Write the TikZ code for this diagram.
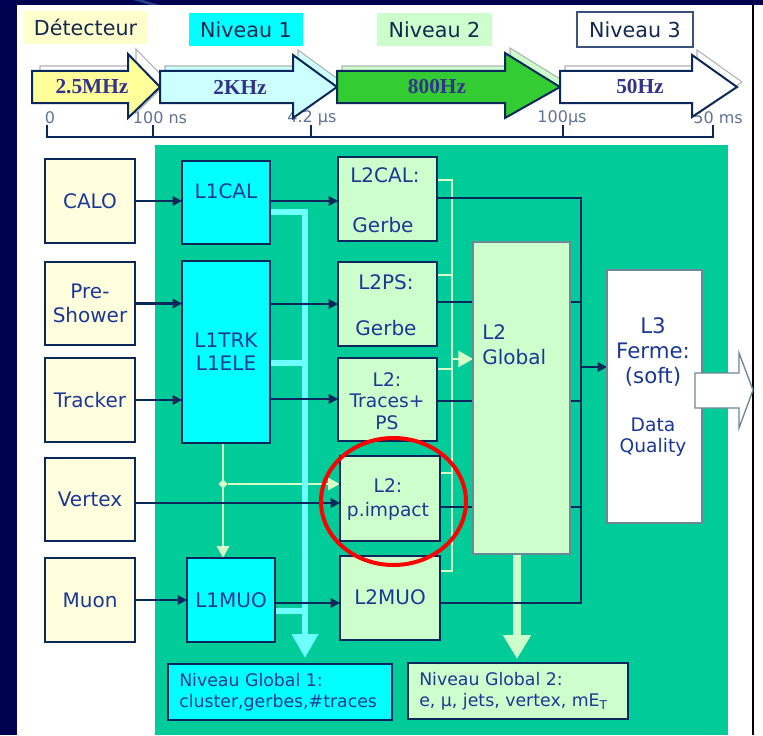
\documentclass[tikz,border=0pt]{standalone}
\usepackage{fontspec}
\setmainfont{DejaVu Sans}
\newfontfamily\arrfont{Liberation Serif}
\usetikzlibrary{arrows.meta,fit,shapes.geometric}
\definecolor{navybg}{RGB}{0,0,80}
\definecolor{streak}{RGB}{40,60,140}
\definecolor{panelgreen}{RGB}{0,204,153}
\definecolor{boxcyan}{RGB}{0,255,255}
\definecolor{lgreen}{RGB}{204,255,204}
\definecolor{sensor}{RGB}{255,255,221}
\definecolor{detlabel}{RGB}{255,255,204}
\definecolor{arrY}{RGB}{255,255,153}
\definecolor{arrC}{RGB}{204,255,255}
\definecolor{arrG}{RGB}{51,204,51}
\definecolor{edge}{RGB}{12,40,90}
\definecolor{txtblue}{RGB}{28,56,150}
\definecolor{hdrtxt}{RGB}{20,40,80}
\definecolor{tltxt}{RGB}{95,115,150}
\definecolor{lcyan}{RGB}{110,255,255}
\definecolor{pale}{RGB}{215,255,200}
\definecolor{arrtxt}{RGB}{51,51,140}
\definecolor{greyedge}{RGB}{110,135,150}
\pgfdeclarelayer{back}
\pgfdeclarelayer{lines}
\pgfsetlayers{back,lines,main}
\begin{document}
\begin{tikzpicture}[x=0.75pt,y=-0.75pt,
  box/.style={draw=edge, line width=2pt, inner sep=0pt, outer sep=0pt},
  plain/.style={inner sep=0pt, outer sep=0pt},
  txt/.style={text=txtblue, font=\fontsize{15}{18}\selectfont, align=center, inner sep=0pt},
  smalltxt/.style={text=txtblue, font=\fontsize{14}{16}\selectfont, align=center, inner sep=0pt},
  ngtxt/.style={text=txtblue, font=\fontsize{13}{15.75}\selectfont, align=left, inner sep=0pt, anchor=west},
  hdr/.style={text=hdrtxt, font=\fontsize{15.5}{18}\selectfont, inner sep=0pt},
  tl/.style={text=tltxt, font=\fontsize{12}{14}\selectfont, inner sep=0pt},
  arrlabel/.style={text=arrtxt, font=\arrfont\bfseries\fontsize{16}{18}\selectfont, inner sep=0pt},
  bigarrow/.style={draw=edge, line width=1.5pt, line join=miter},
  shadowarrow/.style={draw=gray!60, line width=0.8pt},
  navyline/.style={draw=edge, line width=2pt},
  navyarrow/.style={navyline, -{Triangle[length=7pt,width=7pt]}},
  paleline/.style={draw=pale, line width=2.2pt},
  palearrow/.style={paleline, -{Triangle[length=9pt,width=9pt]}},
  cyanline/.style={draw=lcyan, line width=5pt},
  greenthick/.style={draw=lgreen, line width=5.5pt}
]
\useasboundingbox (0,0) rectangle (763,735);
% frame
\begin{pgfonlayer}{back}
\fill[white] (0,0) rectangle (763,735);
\fill[navybg] (0,0) rectangle (17,735);
\fill[navybg] (0,0) rectangle (763,5);
\fill[streak] (133,0) -- (143,0) -- (160,5) -- (150,5) -- cycle;
\draw[black, line width=1.2pt] (753,5) -- (753,735);
\fill[panelgreen] (155,145) rectangle (728,735);
\end{pgfonlayer}

% timeline labels (behind arrows)
\node[tl] (t0) at (50,118) {0};
\node[tl] (t1) at (160,118) {100 ns};
\node[tl] (t2) at (312,118) {4.2 µs};
\node[tl] (t3) at (562,118) {100µs};
\node[tl] (t4) at (718,118) {50 ms};

% shadows of the big arrows
\draw[shadowarrow, fill=white, shift={(8,-5)}] (32,71) -- (128,71) -- (128,54) -- (160,87) -- (128,118) -- (128,103) -- (32,103) -- cycle;
\draw[shadowarrow, fill=arrC, shift={(5,-5)}] (160,71) -- (293,71) -- (293,55) -- (337,87) -- (293,118) -- (293,103) -- (160,103) -- cycle;
\draw[shadowarrow, fill=lgreen, shift={(5,-5)}] (337,71) -- (505,71) -- (505,53) -- (560,87) -- (505,118) -- (505,103) -- (337,103) -- cycle;
\draw[shadowarrow, fill=white, shift={(5,-5)}] (560,71) -- (692,71) -- (692,55) -- (737,87) -- (692,117) -- (692,103) -- (560,103) -- cycle;
% big arrows
\draw[bigarrow, fill=arrY] (32,71) -- (128,71) -- (128,54) -- (160,87) -- (128,118) -- (128,103) -- (32,103) -- cycle;
\draw[bigarrow, fill=arrC] (160,71) -- (293,71) -- (293,55) -- (337,87) -- (293,118) -- (293,103) -- (160,103) -- cycle;
\draw[bigarrow, fill=arrG] (337,71) -- (505,71) -- (505,53) -- (560,87) -- (505,118) -- (505,103) -- (337,103) -- cycle;
\draw[bigarrow, fill=white] (560,71) -- (692,71) -- (692,55) -- (737,87) -- (692,117) -- (692,103) -- (560,103) -- cycle;
\node[arrlabel] (f1) at (92,87) {2.5MHz};
\node[arrlabel] (f2) at (240,87) {2KHz};
\node[arrlabel] (f3) at (437,87) {800Hz};
\node[arrlabel] (f4) at (640,87) {50Hz};

% header labels
\node[plain, fill=detlabel, fit={(24,11)(147,44)}] (hdet) {};
\node[hdr] (hdett) at (hdet.center) {Détecteur};
\node[plain, fill=boxcyan, fit={(189,13)(303,46)}] (hn1) {};
\node[hdr] (hn1t) at (hn1.center) {Niveau 1};
\node[plain, fill=lgreen, fit={(377,13)(492,46)}] (hn2) {};
\node[hdr] (hn2t) at (hn2.center) {Niveau 2};
\node[plain, fill=white, draw=edge!80, line width=1.2pt, fit={(577,12)(693,47)}] (hn3) {};
\node[hdr] (hn3t) at (hn3.center) {Niveau 3};

% timeline bracket
\draw[edge, line width=2.2pt] (47,125) -- (47,137) -- (713,137) -- (713,125);
\foreach \tx in {153,311,563} \draw[edge, line width=2.2pt] (\tx,125) -- (\tx,137);

% sensors
\node[box, fill=sensor, fit={(45,159)(135,243)}] (calo) {};
\node[txt] (calot) at (calo.center) {CALO};
\node[box, fill=sensor, fit={(45,262)(135,345)}] (pre) {};
\node[txt] (pret) at (pre.center) {Pre-\\Shower};
\node[box, fill=sensor, fit={(45,358)(135,442)}] (tracker) {};
\node[txt] (trackert) at (tracker.center) {Tracker};
\node[box, fill=sensor, fit={(45,458)(135,541)}] (vertex) {};
\node[txt] (vertext) at (vertex.center) {Vertex};
\node[box, fill=sensor, fit={(45,558)(135,642)}] (muon) {};
\node[txt] (muont) at (muon.center) {Muon};

% level 1
\node[box, fill=boxcyan, fit={(182,161)(270,244)}] (l1cal) {};
\node[txt] (l1calt) at (226,191) {L1CAL};
\node[box, fill=boxcyan, fit={(182,261)(270,443)}] (l1trk) {};
\node[txt, font=\fontsize{15}{17.25}\selectfont] (l1trkt) at (226,352) {L1TRK\\L1ELE};
\node[box, fill=boxcyan, fit={(187,558)(275,642)}] (l1muo) {};
\node[txt] (l1muot) at (l1muo.center) {L1MUO};

% level 2
\node[box, fill=lgreen, fit={(338,157)(437,241)}] (l2cal) {};
\node[txt] (l2calt) at (385,175) {L2CAL:};
\node[txt] (l2calg) at (383,225) {Gerbe};
\node[box, fill=lgreen, fit={(338,262)(437,346)}] (l2ps) {};
\node[txt] (l2pst) at (386,282) {L2PS:};
\node[txt] (l2psg) at (386,328) {Gerbe};
\node[box, fill=lgreen, fit={(338,358)(437,441)}] (l2tr) {};
\node[smalltxt] (l2trt) at (387,401) {L2:\\Traces+\\PS};
\node[box, fill=lgreen, fit={(340,456)(440,541)}] (l2imp) {};
\node[smalltxt, font=\fontsize{14}{18}\selectfont] (l2impt) at (388,500) {L2:\\p.impact};
\node[box, fill=lgreen, fit={(340,556)(440,640)}] (l2muo) {};
\node[txt] (l2muot) at (390,597) {L2MUO};

\node[draw=greyedge, line width=1.5pt, fill=lgreen, inner sep=0pt, outer sep=0pt, fit={(473,242)(570,554)}] (glob) {};
\node[txt, align=left, anchor=west, font=\fontsize{15}{18.75}\selectfont] (globt) at (482,345) {L2\\Global};

\node[draw=greyedge, line width=1.5pt, fill=white, inner sep=0pt, outer sep=0pt, fit={(607,270)(702,523)}] (l3) {};
\node[txt, font=\fontsize{16}{18.75}\selectfont] (l3t) at (653,352) {L3\\Ferme:\\(soft)};
\node[smalltxt, font=\fontsize{14}{15.75}\selectfont] (l3q) at (653,437) {Data\\Quality};

% output arrow
\draw[draw=greyedge, line width=1pt, fill=white] (695,373) -- (739,373) -- (739,353) -- (753,390) -- (739,428) -- (739,408) -- (695,408) -- cycle;

% bottom boxes
\node[box, fill=boxcyan, fit={(168,664)(392,720)}] (ng1) {};
\node[ngtxt] (ng1t) at (179,692) {Niveau Global 1:\\cluster,gerbes,\#traces};
\node[box, fill=lgreen, fit={(408,663)(628,719)}] (ng2) {};
\node[ngtxt] (ng2t) at (419,691) {Niveau Global 2:\\e, µ, jets, vertex, mE$_{\mathrm{T}}$};

% junction
\node[diamond, fill=pale, inner sep=0pt, minimum size=7pt] (jn) at (223,484) {};

% connectors on the lines layer
\coordinate (pbT) at (452,180);
\coordinate (pbB) at (452,571);
\coordinate (cyT) at (305,212);
\coordinate (cyTip) at (305,658);
\coordinate (g2tip) at (517,659);
\coordinate (nbT) at (581,198);
\coordinate (nbB) at (581,603);
\begin{pgfonlayer}{lines}
% pale feedback lines
\draw[paleline] (l2cal.east |- pbT) -- (pbT) -- (pbB) -- (l2muo.east |- pbB);
\draw[paleline] (l2ps.east |- 0,275) -- (pbT |- 0,275);
\draw[paleline] (l2tr.east |- 0,369) -- (pbT |- 0,369);
\draw[paleline] (l2imp.east |- 0,473) -- (pbT |- 0,473);
\draw[paleline, -{Triangle[length=11pt,width=12pt]}] (pbT |- 0,359) -- (glob.west |- 0,359);
\draw[palearrow] (l1trk.south -| jn) -- (l1muo.north -| jn);
\draw[palearrow] (jn) -- (l2imp.west |- jn);
% cyan level-1 global lines
\draw[cyanline, -{Triangle[length=18pt,width=19pt]}] (l1cal.east |- cyT) -- (cyT) -- (cyTip);
\draw[cyanline] (l1trk.east |- 0,363) -- (cyT |- 0,363);
\draw[cyanline] (l1muo.east |- 0,611) -- (cyT |- 0,611);
% level-2 global output
\draw[greenthick, -{Triangle[length=18pt,width=20pt]}] (glob.south -| g2tip) -- (g2tip);
% navy bus
\draw[navyline] (l2cal.east |- nbT) -- (nbT) -- (nbB) -- (l2muo.east |- nbB);
\draw[navyline] (l2ps.east |- 0,302) -- (nbT |- 0,302);
\draw[navyline] (l2tr.east |- 0,401) -- (nbT |- 0,401);
\draw[navyline] (l2imp.east |- 0,507) -- (nbT |- 0,507);
\draw[navyarrow] (nbT |- 0,367) -- (l3.west |- 0,367);
% inputs
\draw[navyarrow] (calo.east) -- (calo.east -| l1cal.west);
\draw[navyarrow] (pre.east) -- (pre.east -| l1trk.west);
\draw[navyarrow] (tracker.east) -- (tracker.east -| l1trk.west);
\draw[navyarrow] (vertex.east |- 0,503) -- (l2imp.west |- 0,503);
\draw[navyarrow] (muon.east) -- (muon.east -| l1muo.west);
\draw[navyarrow] (l1cal.east |- 0,201) -- (l2cal.west |- 0,201);
\draw[navyarrow] (l1trk.east |- 0,304) -- (l2ps.west |- 0,304);
\draw[navyarrow] (l1trk.east |- 0,399) -- (l2tr.west |- 0,399);
\draw[navyarrow] (l1muo.east |- 0,603) -- (l2muo.west |- 0,603);
\end{pgfonlayer}

% highlight
\draw[red, line width=3pt] (393.5,501.5) ellipse [x radius=72.5, y radius=63.5];
\end{tikzpicture}
\end{document}
